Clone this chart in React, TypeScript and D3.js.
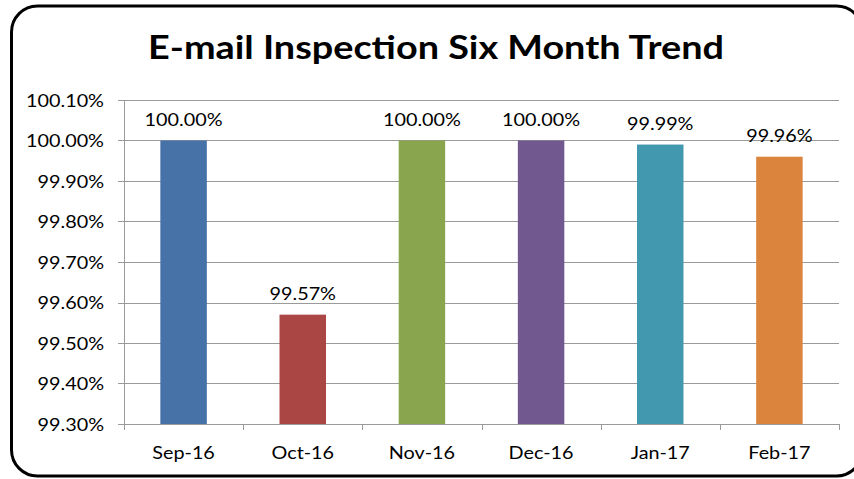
import React from "react";
import * as d3 from "d3";

const categories = ["Sep-16", "Oct-16", "Nov-16", "Dec-16", "Jan-17", "Feb-17"];
const values = [100.0, 99.57, 100.0, 100.0, 99.99, 99.96];
const labels = ["100.00%", "99.57%", "100.00%", "100.00%", "99.99%", "99.96%"];
const colors = ["#4672A8", "#AA4643", "#89A54E", "#71588F", "#4198AF", "#DB843D"];
const yTicks = [99.3, 99.4, 99.5, 99.6, 99.7, 99.8, 99.9, 100.0, 100.1];

const W = 854, H = 479;
const left = 124, right = 839, top = 100, bottom = 424;
const font = "Lato, 'Open Sans', sans-serif";
const SX = 1.2;

function T({ x, y, anchor = "middle", size = 16.5, bold = false, children }: any) {
  return (
    <g transform={`translate(${x},${y}) scale(${SX},1)`}>
      <text x={0} y={0} textAnchor={anchor} fontFamily={font} fontWeight={bold ? "bold" : "normal"} fontSize={size} fill="#000">
        {children}
      </text>
    </g>
  );
}

export default function App() {
  const x = d3.scaleBand<string>().domain(categories).range([left, right]).paddingInner(0.61).paddingOuter(0.305);
  const xb = d3.scaleBand<string>().domain(categories).range([left, right]);
  const y = d3.scaleLinear().domain([99.3, 100.1]).range([bottom, top]);
  return (
    <svg width={W} height={H} style={{ position: "absolute", left: 0, top: 0, background: "#fff" }}>
      <rect x={11.5} y={6} width={851} height={470} rx={26} ry={26} fill="#fff" stroke="#000" strokeWidth={3} />
      <T x={436} y={59} size={31.5} bold>E-mail Inspection Six Month Trend</T>
      {yTicks.map((t) => (
        <g key={t}>
          <line x1={left - 6} x2={right} y1={Math.round(y(t)) + 0.5} y2={Math.round(y(t)) + 0.5} stroke="#9a9a9a" strokeWidth={1} />
          <T x={104} y={y(t) + 6.5} anchor="end">{t.toFixed(2) + "%"}</T>
        </g>
      ))}
      <line x1={left + 0.5} x2={left + 0.5} y1={top} y2={bottom} stroke="#9a9a9a" />
      {categories.map((c, i) => (
        <g key={c}>
          <rect x={x(c)} y={y(values[i])} width={x.bandwidth()} height={bottom - y(values[i])} fill={colors[i]} />
          <T x={x(c)! + x.bandwidth() / 2} y={y(values[i]) - 15}>{labels[i]}</T>
          <T x={xb(c)! + xb.bandwidth() / 2} y={459}>{c}</T>
        </g>
      ))}
      {[...categories.map((c) => xb(c)!), right].map((v, i) => (
        <line key={i} x1={Math.round(v) + 0.5} x2={Math.round(v) + 0.5} y1={bottom} y2={bottom + 6} stroke="#9a9a9a" />
      ))}
    </svg>
  );
}
